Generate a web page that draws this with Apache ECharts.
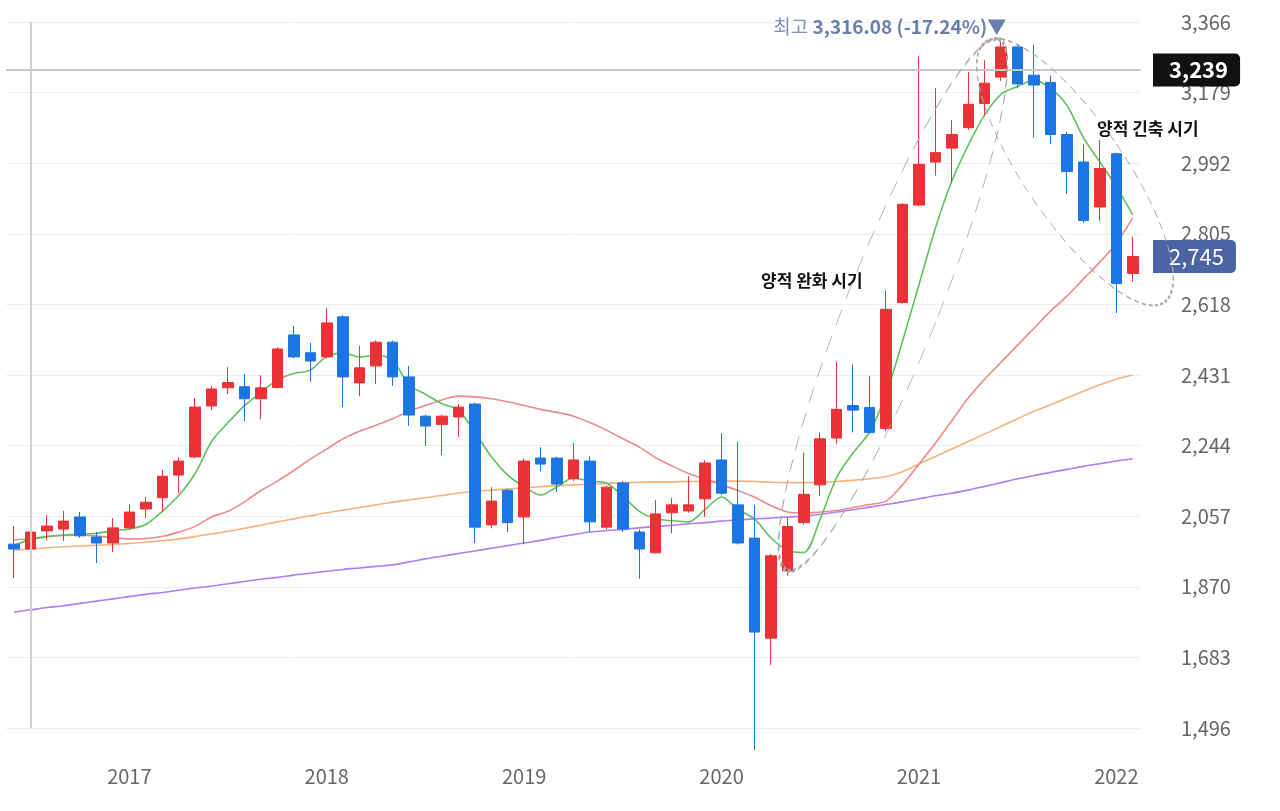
<!DOCTYPE html>
<html>
<head>
<meta charset="utf-8">
<script src="https://cdn.jsdelivr.net/npm/echarts@6/dist/echarts.min.js"></script>
<style>
  html, body { margin: 0; padding: 0; background: #fff; }
  #chart { width: 1280px; height: 811px; }
</style>
</head>
<body>
<div id="chart"></div>
<script>
var months = [];
(function() {
  var y = 2016, m = 6;
  for (var i = 0; i < 69; i++) {
    months.push(y + '-' + (m < 10 ? '0' + m : m));
    m++; if (m > 12) { m = 1; y++; }
  }
})();

// [open, close, low, high]
var candles = [
  [1983, 1970, 1893, 2031], [1970, 2015, 1965, 2020], [2018, 2031, 1994, 2060], [2023, 2044, 1991, 2071],
  [2055, 2005, 2000, 2068], [2002, 1986, 1933, 2015], [1986, 2026, 1962, 2052], [2026, 2068, 2020, 2089],
  [2076, 2094, 2052, 2108], [2106, 2163, 2068, 2180], [2166, 2203, 2118, 2214], [2214, 2346, 2210, 2370],
  [2349, 2394, 2338, 2402], [2397, 2411, 2380, 2452], [2400, 2368, 2309, 2434], [2368, 2397, 2314, 2430],
  [2398, 2500, 2395, 2505], [2537, 2479, 2475, 2561], [2490, 2468, 2413, 2516], [2479, 2569, 2475, 2608],
  [2585, 2426, 2346, 2590], [2410, 2450, 2375, 2508], [2455, 2518, 2407, 2522], [2518, 2426, 2402, 2522],
  [2426, 2325, 2296, 2455], [2322, 2296, 2243, 2326], [2300, 2322, 2219, 2326], [2320, 2346, 2267, 2354],
  [2354, 2028, 1986, 2358], [2034, 2097, 2025, 2134], [2126, 2040, 2015, 2130], [2055, 2203, 1983, 2210],
  [2211, 2195, 2175, 2240], [2211, 2142, 2121, 2215], [2156, 2206, 2150, 2251], [2203, 2042, 2015, 2215],
  [2028, 2134, 2022, 2138], [2145, 2023, 2015, 2150], [2015, 1970, 1891, 2022], [1960, 2063, 1958, 2100],
  [2066, 2087, 2012, 2105], [2071, 2087, 2066, 2163], [2103, 2198, 2055, 2205], [2206, 2118, 2112, 2277],
  [2087, 1986, 1982, 2254], [1999, 1750, 1438, 2087], [1734, 1952, 1663, 1957], [1912, 2030, 1900, 2055],
  [2040, 2115, 2035, 2225], [2140, 2262, 2110, 2279], [2264, 2340, 2249, 2466], [2350, 2338, 2279, 2459],
  [2345, 2279, 2275, 2428], [2289, 2605, 2282, 2655], [2623, 2883, 2620, 2886], [2881, 2989, 2878, 3275],
  [2995, 3020, 2959, 3191], [3032, 3068, 2941, 3106], [3086, 3148, 3080, 3233], [3150, 3204, 3118, 3265],
  [3220, 3300, 3210, 3316.08], [3300, 3202, 3190, 3305], [3225, 3199, 3060, 3305], [3206, 3068, 3042, 3224],
  [3068, 2970, 2911, 3075], [2995, 2840, 2834, 3042], [2876, 2978, 2840, 3053], [3017, 2673, 2595, 3020],
  [2700, 2745, 2678, 2797]
];

var ma5 = [1981, 1995, 2003, 2007, 2010, 2012, 2018, 2023, 2035, 2070, 2112, 2170, 2255, 2305, 2350, 2385,
  2418, 2435, 2444, 2480, 2489, 2479, 2484, 2470, 2405, 2380, 2355, 2338, 2280, 2215, 2166, 2135, 2113, 2135,
  2158, 2150, 2145, 2110, 2070, 2050, 2045, 2042, 2075, 2108, 2075, 2050, 2000, 1967, 1961, 2050, 2160, 2225,
  2280, 2380, 2520, 2670, 2820, 2945, 3040, 3120, 3175, 3195, 3212, 3190, 3145, 3060, 2995, 2930, 2855];
var ma20 = [1994, 1998, 2003, 2006, 2007, 2005, 2000, 1997, 1998, 2003, 2015, 2030, 2055, 2070, 2095, 2125,
  2150, 2178, 2208, 2235, 2262, 2282, 2298, 2315, 2335, 2350, 2365, 2375, 2373, 2368, 2360, 2350, 2340, 2332,
  2322, 2305, 2285, 2262, 2240, 2212, 2190, 2170, 2155, 2140, 2125, 2108, 2085, 2068, 2065, 2068, 2072, 2080,
  2088, 2097, 2140, 2195, 2250, 2310, 2370, 2420, 2465, 2510, 2555, 2600, 2640, 2685, 2730, 2780, 2847];
var ma60 = [1967, 1970, 1973, 1976, 1978, 1980, 1982, 1985, 1988, 1992, 1997, 2003, 2010, 2017, 2025, 2033,
  2042, 2050, 2058, 2066, 2073, 2080, 2087, 2094, 2100, 2106, 2112, 2118, 2123, 2126, 2129, 2132, 2135, 2138,
  2140, 2142, 2144, 2146, 2147, 2148, 2148, 2149, 2149, 2150, 2150, 2149, 2147, 2146, 2146, 2147, 2149, 2152,
  2156, 2162, 2175, 2195, 2215, 2235, 2255, 2275, 2295, 2315, 2335, 2352, 2370, 2388, 2405, 2420, 2431];
var ma120 = [1803, 1809, 1815, 1820, 1826, 1832, 1838, 1844, 1850, 1855, 1861, 1867, 1872, 1878, 1884, 1890,
  1895, 1901, 1906, 1911, 1916, 1920, 1924, 1928, 1936, 1944, 1951, 1958, 1965, 1972, 1979, 1986, 1993, 2001,
  2008, 2015, 2019, 2022, 2026, 2030, 2033, 2037, 2040, 2044, 2047, 2050, 2052, 2055, 2057, 2062, 2068, 2074,
  2081, 2088, 2095, 2103, 2111, 2118, 2126, 2136, 2146, 2156, 2165, 2173, 2181, 2189, 2196, 2203, 2209];

var yMin = 1496, yMax = 3366, yStep = 187;
var hoverLine = 3239, lastClose = 2745;

var font = 'Noto Sans CJK KR, Noto Sans, sans-serif';
var chart = echarts.init(document.getElementById('chart'), null, { renderer: 'canvas' });

function maSeries(data, color) {
  return { type: 'line', data: data, symbol: 'none', smooth: 0.3, z: 3,
    lineStyle: { width: 1.6, color: color }, silent: true };
}

var badge = { position: 'end', distance: 12, color: '#fff', fontSize: 22, fontWeight: 'bold',
  fontFamily: font, padding: [6, 12, 5, 16], borderRadius: [0, 5, 5, 0] };

chart.setOption({
  animation: false,
  grid: { left: 6, right: 139, top: 22, bottom: 83 },
  xAxis: {
    type: 'category', data: months, boundaryGap: true,
    axisLine: { show: false }, axisTick: { show: false }, splitLine: { show: false },
    axisLabel: {
      margin: 38, fontSize: 20, color: '#666', fontFamily: font,
      interval: function(i, v) { return v.slice(5) === '01'; },
      formatter: function(v) { return v.slice(0, 4); }
    }
  },
  yAxis: {
    type: 'value', position: 'right',
    min: yMin, max: yMax, interval: yStep,
    axisLine: { show: false }, axisTick: { show: false },
    axisLabel: { margin: 40, fontSize: 20, color: '#666', fontFamily: font,
      formatter: function(v) { return v.toLocaleString('en-US'); } },
    splitLine: { lineStyle: { color: '#eeeeee', width: 1 } }
  },
  series: [
    maSeries(ma120, '#b27cf2'),
    maSeries(ma60, '#f6b27a'),
    maSeries(ma20, '#ef8a8a'),
    maSeries(ma5, '#5cc35c'),
    {
      type: 'candlestick', data: candles, barWidth: 11, clip: false, z: 4,
      itemStyle: { color: '#ec3237', color0: '#1b75e3', borderColor: '#ec3237', borderColor0: '#1b75e3', borderWidth: 1 },
      markLine: {
        symbol: 'none', silent: true,
        data: [
          { yAxis: hoverLine, lineStyle: { color: '#c8c8c8', width: 2, type: 'solid' },
            label: Object.assign({}, badge, { formatter: '3,239', backgroundColor: '#111' }) },
          { xAxis: months[1], lineStyle: { color: '#d0d0d0', width: 2, type: 'solid' }, label: { show: false } },
          { yAxis: lastClose, lineStyle: { color: 'rgba(0,0,0,0)', width: 1 },
            label: Object.assign({}, badge, { formatter: '2,745', fontWeight: 'normal', backgroundColor: '#4b64a3' }) }
        ]
      },
      markPoint: {
        symbol: 'circle', symbolSize: 0, silent: true,
        data: [
          { coord: [months[60], 3316.08],
            label: { show: true, position: 'left', offset: [10, -14], fontFamily: font,
              formatter: '{a|최고 }{b|3,316.08 (-17.24%)▼}',
              rich: { a: { fontSize: 19, color: '#8091b5' }, b: { fontSize: 19, color: '#6a7fb0', fontWeight: 'bold' } } } },
          { coord: [months[48], 2680],
            label: { show: true, position: 'inside', offset: [8, 0], formatter: '양적 완화 시기',
              fontSize: 17, fontWeight: 'bold', color: '#111', fontFamily: font } },
          { coord: [months[68], 3085],
            label: { show: true, position: 'inside', offset: [15, 0], formatter: '양적 긴축 시기',
              fontSize: 17, fontWeight: 'bold', color: '#111', fontFamily: font } }
        ]
      }
    }
  ],
  graphic: [
    { type: 'circle', x: 893, y: 305, shape: { cx: 0, cy: 0, r: 100 }, scaleX: 0.46, scaleY: 2.86, rotation: -0.38,
      strokeNoScale: true, silent: true, z: 10,
      style: { fill: 'none', stroke: '#aaaaaa', lineWidth: 1.6, lineDash: [6, 4] } },
    { type: 'circle', x: 1075, y: 172, shape: { cx: 0, cy: 0, r: 100 }, scaleX: 0.5, scaleY: 1.58, rotation: 0.6,
      strokeNoScale: true, silent: true, z: 10,
      style: { fill: 'none', stroke: '#aaaaaa', lineWidth: 1.6, lineDash: [6, 4] } }
  ]
});
</script>
</body>
</html>
